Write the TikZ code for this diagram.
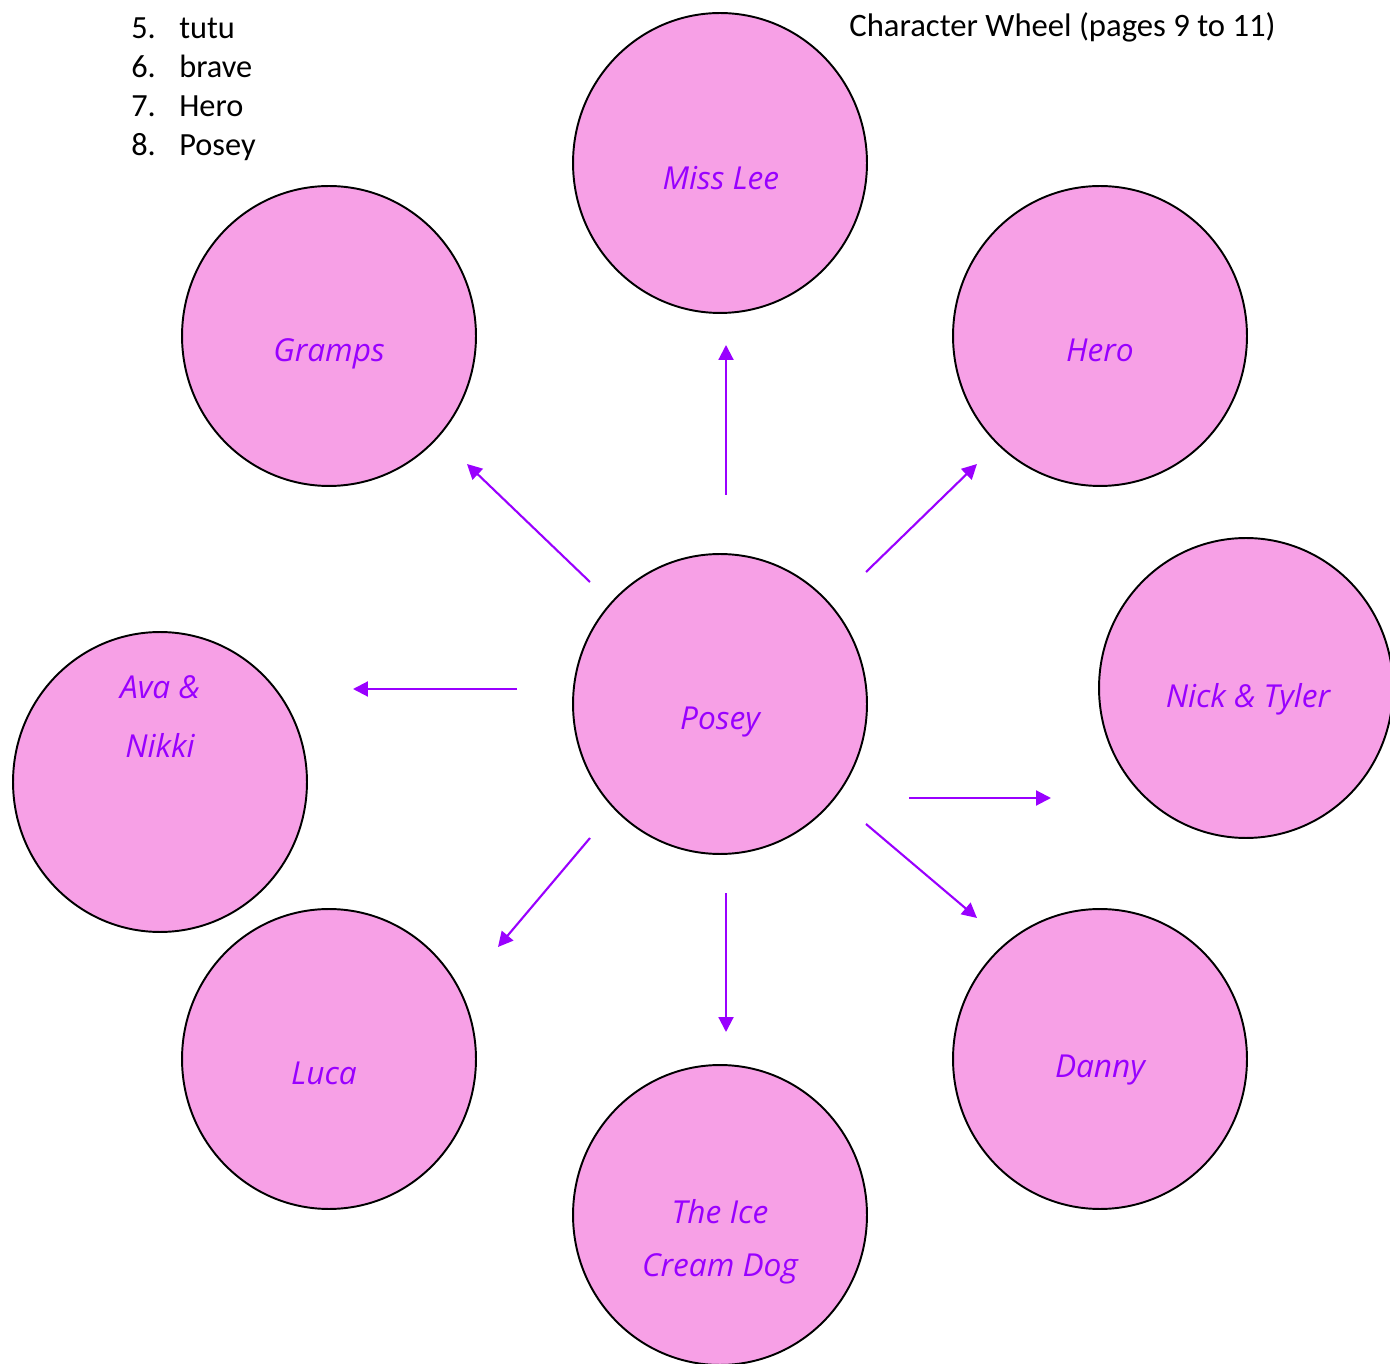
\documentclass[tikz,border=0pt]{standalone}
\usepackage{fontspec}
\setmainfont{Carlito}
\newfontfamily\handfont{Open Sans}
\usetikzlibrary{arrows.meta, shapes.geometric}
\definecolor{wheelpink}{RGB}{247,160,230}
\definecolor{wheelpurple}{RGB}{153,0,255}

\begin{document}
\begin{tikzpicture}[x=0.02cm, y=-0.02cm,
    charcircle/.style={ellipse, draw=black, line width=1.1pt, fill=wheelpink,
        minimum width=5.88cm, minimum height=6cm, inner sep=0pt},
    charname/.style={text=wheelpurple, font=\handfont\itshape\fontsize{18}{22}\selectfont,
        inner sep=0pt, align=center},
    wheelarrow/.style={wheelpurple, line width=1.2pt, -{Triangle[length=8.5pt, width=8.5pt]}},
    listtext/.style={anchor=base west, inner sep=0pt, font=\fontsize{18.4}{22}\selectfont}]

    % Page frame
    \useasboundingbox (0,0) rectangle (1390,1364);

    % Word list and title
    \foreach \n/\w [count=\i from 0] in {5/tutu, 6/brave, 7/Hero, 8/Posey} {
        \node[listtext] (num\n) at (131, 39+38.7*\i) {\n.};
        \node[listtext] (word\n) at (179, 39+38.7*\i) {\w};
    }
    \node[listtext,font=\fontsize{18.6}{22}\selectfont] (title) at (849, 37) {Character Wheel (pages 9 to 11)};

    % Circles
    \node[charcircle] (lee)    at (720, 163)  {};
    \node[charcircle] (gramps) at (329, 336)  {};
    \node[charcircle] (hero)   at (1100, 336) {};
    \node[charcircle] (nick)   at (1246, 688) {};
    \node[charcircle] (posey)  at (720, 704)  {};
    \node[charcircle] (ava)    at (160, 782)  {};
    \node[charcircle] (luca)   at (329, 1059) {};
    \node[charcircle] (danny)  at (1100, 1059) {};
    \node[charcircle] (dog)    at (720, 1215) {};

    % Names
    \node[charname] (leeName)    at (721, 178)  {Miss Lee};
    \node[charname] (grampsName) at (329, 354)  {Gramps};
    \node[charname] (heroName)   at (1100, 350) {Hero};
    \node[charname] (nickName)   at (1248, 699) {Nick \& Tyler};
    \node[charname] (poseyName)  at (720, 722)  {Posey};
    \node[charname] (avaName)    at (160, 687)  {Ava \&};
    \node[charname] (nikkiName)  at (160, 745)  {Nikki};
    \node[charname] (lucaName)   at (324, 1073) {Luca};
    \node[charname] (dannyName)  at (1100, 1070) {Danny};
    \node[charname] (iceName)    at (720, 1212) {The Ice};
    \node[charname] (creamName)  at (720, 1269) {Cream Dog};

    % Arrow ends
    \foreach \a/\sx/\sy/\ex/\ey in {up/726/495/726/345, ul/590/582/467/464,
        ur/866/572/977/464, lt/517/689/353/689, rt/909/798/1051/798,
        dl/590/838/498/947, dn/726/893/726/1032, dr/866/824/977/918} {
        \coordinate (\a S) at (\sx,\sy);
        \coordinate (\a E) at (\ex,\ey);
    }

    % Arrows
    \foreach \a in {up, ul, ur, lt, rt, dl, dn, dr}
        \draw[wheelarrow] (\a S) -- (\a E);

\end{tikzpicture}
\end{document}
